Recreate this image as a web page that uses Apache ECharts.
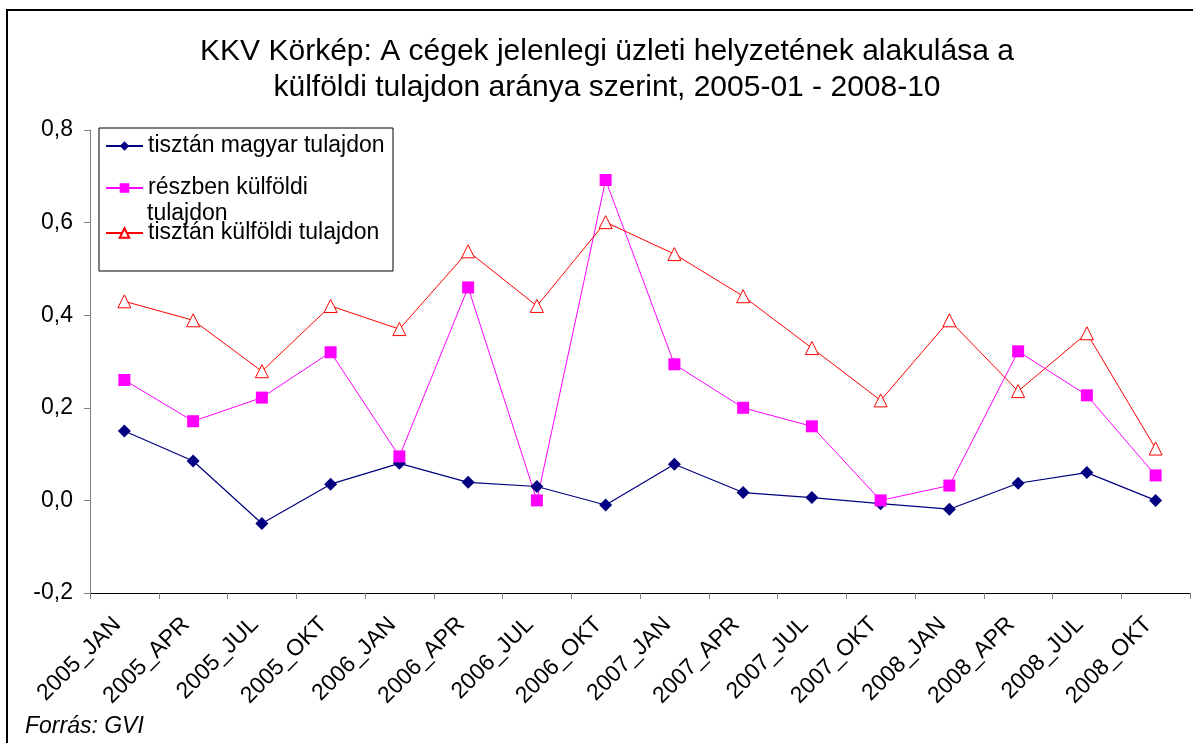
<!DOCTYPE html>
<html>
<head>
<meta charset="utf-8">
<script src="https://cdn.jsdelivr.net/npm/echarts@6/dist/echarts.min.js"></script>
<style>
  html, body { margin: 0; padding: 0; background: #fff; }
  #chart { width: 1193px; height: 743px; }
</style>
</head>
<body>
<div id="chart"></div>
<script>
var categories = ['2005_JAN', '2005_APR', '2005_JUL', '2005_OKT', '2006_JAN', '2006_APR', '2006_JUL', '2006_OKT',
  '2007_JAN', '2007_APR', '2007_JUL', '2007_OKT', '2008_JAN', '2008_APR', '2008_JUL', '2008_OKT'];
var magyar = [0.15, 0.085, -0.05, 0.035, 0.08, 0.039, 0.03, -0.01, 0.078, 0.017, 0.006, -0.007, -0.019, 0.037, 0.06, 0.0];
var reszben = [0.26, 0.171, 0.222, 0.32, 0.095, 0.46, 0.0, 0.692, 0.294, 0.2, 0.16, 0.0, 0.032, 0.322, 0.227, 0.054];
var kulfoldi = [0.43, 0.389, 0.279, 0.42, 0.37, 0.538, 0.42, 0.601, 0.532, 0.441, 0.329, 0.216, 0.389, 0.236, 0.361, 0.112];
var names = ['tisztán magyar tulajdon', 'részben külföldi tulajdon', 'tisztán külföldi tulajdon'];

var dom = document.getElementById('chart');
var myChart = echarts.init(dom, null, { renderer: 'canvas' });
var font = 'Liberation Sans, Arial, sans-serif';

// one legend per row so the wrapped middle entry sits like the original
function legendItem(name, top, fmt) {
  return {
    data: [name],
    orient: 'vertical',
    left: 105,
    top: top,
    itemWidth: 37,
    itemHeight: 12,
    padding: 0,
    itemGap: 0,
    selectedMode: false,
    formatter: fmt,
    textStyle: { fontFamily: font, fontSize: 23, color: '#000', lineHeight: 24 }
  };
}

var option = {
  animation: false,
  backgroundColor: '#fff',
  textStyle: { fontFamily: font },
  title: {
    text: 'KKV Körkép: A cégek jelenlegi üzleti helyzetének alakulása a\nkülföldi tulajdon aránya szerint, 2005-01 - 2008-10',
    left: 602,
    textAlign: 'center',
    top: 29,
    textStyle: { fontFamily: font, fontSize: 30, fontWeight: 'normal', color: '#000', lineHeight: 36 }
  },
  legend: [
    legendItem(names[0], 134),
    legendItem(names[1], 176, function () { return 'részben külföldi'; }),
    legendItem(names[2], 221)
  ],
  graphic: [
    { type: 'rect', shape: { x: 7, y: 10, width: 1200, height: 800 }, style: { fill: null, stroke: '#000', lineWidth: 2 }, silent: true },
    { type: 'rect', shape: { x: 99, y: 128, width: 294, height: 143 }, style: { fill: null, stroke: '#000', lineWidth: 1 }, silent: true, z: 10 },
    { type: 'text', left: 147, top: 202, style: { text: 'tulajdon', fontFamily: font, fontSize: 23, fill: '#000' }, z: 10 },
    { type: 'text', left: 25, top: 715, style: { text: 'Forrás: GVI', fontFamily: font, fontSize: 23, fontStyle: 'italic', fill: '#000' } }
  ],
  grid: { left: 90, top: 130, width: 1100, height: 463, containLabel: false },
  xAxis: {
    type: 'category',
    data: categories,
    boundaryGap: true,
    axisLine: { onZero: false, lineStyle: { color: '#000', width: 1 } },
    axisTick: { show: true, length: 6, lineStyle: { color: '#808080' } },
    axisLabel: { rotate: 45, fontFamily: font, fontSize: 23, color: '#000', margin: 21, interval: 0, padding: [0, 10, 0, 0] },
    splitLine: { show: false }
  },
  yAxis: {
    type: 'value',
    min: -0.2,
    max: 0.8,
    interval: 0.2,
    axisLine: { show: true, lineStyle: { color: '#808080' } },
    axisTick: { show: true, length: 6, lineStyle: { color: '#808080' } },
    axisLabel: {
      fontFamily: font, fontSize: 23, color: '#000', margin: 17,
      formatter: function (v) { return v.toFixed(1).replace('.', ','); }
    },
    splitLine: { show: false }
  },
  series: [
    {
      name: names[0], type: 'line', data: magyar,
      symbol: 'diamond', symbolSize: 13,
      lineStyle: { color: '#000080', width: 1.2 },
      itemStyle: { color: '#000080' }
    },
    {
      name: names[1], type: 'line', data: reszben,
      symbol: 'rect', symbolSize: 12,
      lineStyle: { color: '#ff00ff', width: 1 },
      itemStyle: { color: '#ff00ff' }
    },
    {
      name: names[2], type: 'line', data: kulfoldi,
      symbol: 'triangle', symbolSize: 13,
      lineStyle: { color: '#ff0000', width: 1 },
      itemStyle: { color: '#fff', borderColor: '#ff0000', borderWidth: 1 }
    }
  ]
};

myChart.setOption(option);
window.addEventListener('resize', myChart.resize);
</script>
</body>
</html>
